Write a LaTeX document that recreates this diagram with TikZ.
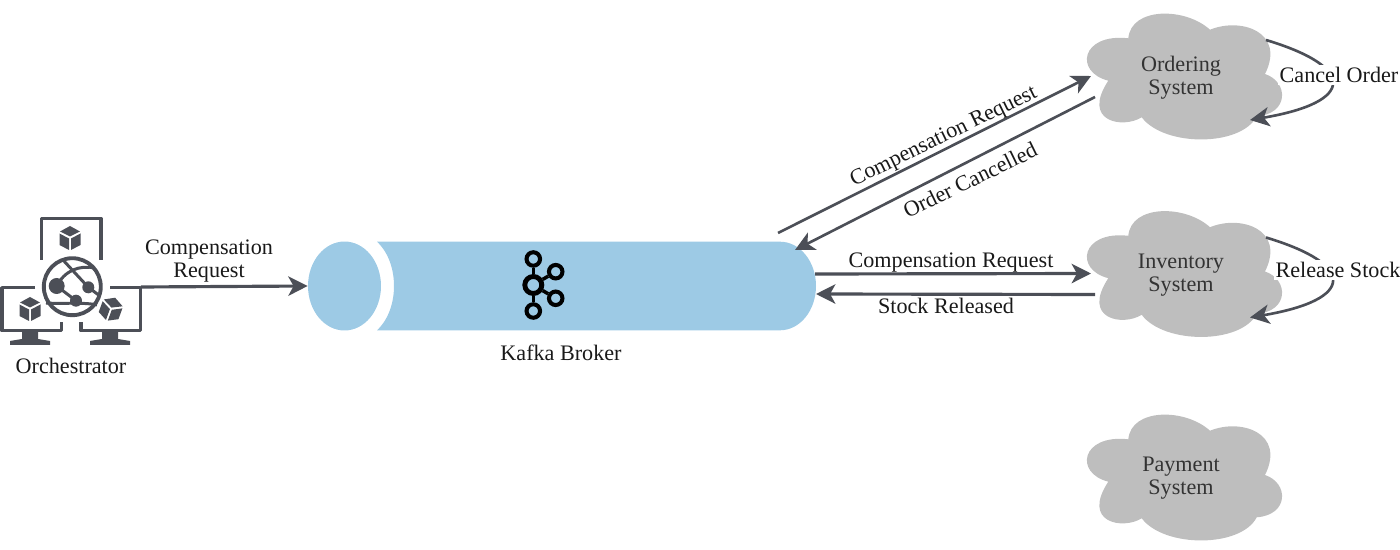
\documentclass[tikz,border=0pt]{standalone}
\usepackage{fontspec}
\setmainfont{Liberation Serif}
\usetikzlibrary{arrows.meta,shapes.geometric}
\definecolor{brokerblue}{HTML}{9DCAE5}
\definecolor{cloudgray}{HTML}{BEBEBE}
\definecolor{linegray}{HTML}{4C4F57}
\tikzset{
	label text/.style={font=\fontsize{12.6}{13.2}\selectfont, align=center, text=black!90, inner sep=1pt},
	flow/.style={draw=linegray, line width=1.8pt, -{Stealth[length=11pt, width=11pt, inset=3pt]}},
	kafka ring/.style={circle, draw=black, line width=2.3pt, minimum size=#1, inner sep=0pt},
	cloudsys/.pic={
		\fill [cloudgray] (-52.7,-38.7) .. controls (-50,-70) and (4,-70) .. (29,-47.3)
			.. controls (60,-60) and (105,-45) .. (84,-3)
			.. controls (108,5) and (108,37) .. (75.7,39.3)
			.. controls (60,70) and (-17,70) .. (-39.3,40.3)
			.. controls (-58,52) and (-100,45) .. (-72.7,3.7)
			.. controls (-107,-5) and (-100,-44) .. (-52.7,-38.7);
		\node [label text, text=black!80] (-name) at (0,0.5) {#1};
		\coordinate (-in) at (-90,-1);
		\coordinate (-out) at (-86,20);
		\coordinate (-loopa) at (85,-37);
		\coordinate (-loopb) at (69,43);
	},
	cube/.pic={
		\fill [linegray] (0,-12) -- (10,-6.5) -- (0,-1.5) -- (-10,-6.5) -- cycle;
		\fill [linegray] (-10.5,-4.5) -- (-1,0.5) -- (-1,12) -- (-10.5,7) -- cycle;
		\fill [linegray] (10.5,-4.5) -- (1,0.5) -- (1,12) -- (10.5,7) -- cycle;
	},
	monitor stand/.pic={
		\fill [linegray] (-8,0) -- (8,0) -- (8,8) -- (20,10) -- (20,14) -- (-20,14) -- (-20,10) -- (-8,8) -- cycle;
	},
}
\begin{document}
\begin{tikzpicture}[x=0.02cm, y=-0.02cm]
	\useasboundingbox (0,0) rectangle (1400,550);

	\draw [linegray, line width=2pt, line join=round] (41.7,260) -- (41.7,218.5) -- (101,218.5) -- (101,260);
	\draw [linegray, line width=2pt, line join=round] (35,287.7) -- (2,287.7) -- (2,330.7) -- (61.7,330.7) -- (61.7,321.7);
	\draw [linegray, line width=2pt, line join=round] (110,287.7) -- (140.7,287.7) -- (140.7,330.7) -- (81,330.7) -- (81,321.7);
	\pic at (30,331) {monitor stand};
	\pic at (110,331) {monitor stand};
	\pic at (70,238) {cube};
	\pic at (30,309) {cube};
	\pic [rotate=-20] at (111,309) {cube};
	\draw [linegray, line width=2.2pt] (72.3,286.7) circle [radius=0.57cm];
	\draw [linegray, line width=1.7pt] (63,260) -- (88.3,287.3) -- (100,296);
	\draw [linegray, line width=1.7pt] (56.7,286) .. controls (65,270) and (80,265) .. (95,268);
	\draw [linegray, line width=1.7pt] (46,303) .. controls (60,304) and (85,302) .. (97,305);
	\draw [linegray, line width=1.7pt] (56.7,286) -- (76,300.7);
	\fill [linegray] (56.7,286) circle [radius=0.16cm];
	\fill [linegray] (88.3,287.3) circle [radius=0.12cm];
	\fill [linegray] (76,300.7) circle [radius=0.12cm];
	\coordinate (orchestrator) at (141,287);
	\node [label text] (orchlabel) at (71,366) {Orchestrator};

	\fill [brokerblue] (377,241.7) -- (780,241.7) .. controls (800,241.7) and (816,261.6) .. (816,286)
		.. controls (816,310.4) and (800,330.3) .. (780,330.3) -- (377,330.3)
		.. controls (390,318) and (394,300) .. (394,286) .. controls (394,272) and (390,254) .. (377,241.7);
	\node [ellipse, fill=brokerblue, minimum width=1.46cm, minimum height=1.78cm, inner sep=0pt] (brokerend) at (344.5,286) {};
	\coordinate (brokerup) at (778,233);
	\coordinate (brokerdown) at (795,250);
	\coordinate (brokerright1) at (815,274);
	\coordinate (brokerright2) at (816,294);
	\node [label text] (brokerlabel) at (561,353) {Kafka Broker};

	\node [kafka ring=0.34cm, line width=2.8pt] (hub) at (533.3,285) {};
	\node [kafka ring=0.27cm] (k1) at (533.3,259) {};
	\node [kafka ring=0.27cm] (k2) at (533.3,311) {};
	\node [kafka ring=0.27cm] (k3) at (555.7,271.7) {};
	\node [kafka ring=0.27cm] (k4) at (555.7,298.3) {};
	\foreach \k in {k1,k2,k3,k4}
		\draw [black, line width=2pt] (hub) -- (\k);

	\pic (ordering) at (1181,77) {cloudsys={Ordering\\System}};
	\pic (inventory) at (1181,274.5) {cloudsys={Inventory\\System}};
	\pic (payment) at (1181,478) {cloudsys={Payment\\System}};

	\draw [flow] (orchestrator) -- (brokerend.west);
	\node [label text] (complabel) at (209,261) {Compensation\\Request};

	\draw [flow, line width=1.5pt] (brokerup) -- (ordering-in);
	\draw [flow, line width=1.5pt] (ordering-out) -- (brokerdown);
	\node [label text, rotate=26] (compup) at (944,137) {Compensation Request};
	\node [label text, rotate=26] (cancelled) at (970,180) {Order Cancelled};

	\draw [flow] (brokerright1) -- (inventory-in);
	\draw [flow] (inventory-out) -- (brokerright2);
	\node [label text] (compright) at (951,263) {Compensation Request};
	\node [label text] (released) at (946,306) {Stock Released};

	\draw [flow, line width=1.5pt] (ordering-loopa) .. controls +(90,27) and +(106,-18) .. (ordering-loopb);
	\node [label text, fill=white] (cancelorder) at (1339,75) {Cancel Order};
	\draw [flow, line width=1.5pt] (inventory-loopa) .. controls +(90,27) and +(106,-18) .. (inventory-loopb);
	\node [label text, fill=white] (releasestock) at (1338,270) {Release Stock};
\end{tikzpicture}
\end{document}
